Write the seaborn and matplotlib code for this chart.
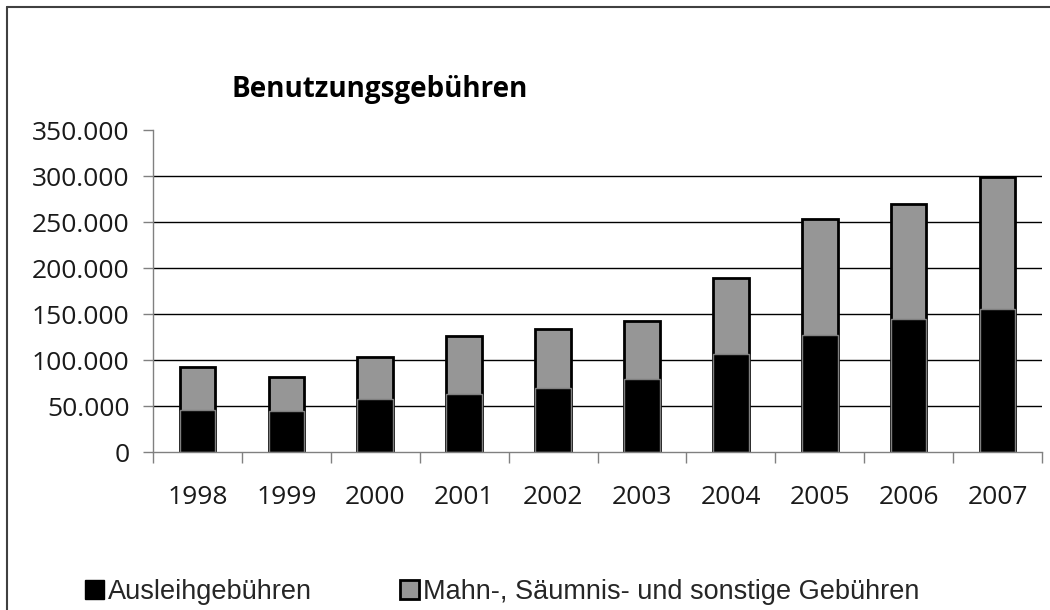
import pandas as pd
import matplotlib
matplotlib.use("Agg")
import matplotlib.pyplot as plt
import seaborn as sns
from matplotlib.patches import Patch
from matplotlib.lines import Line2D
from matplotlib.ticker import FuncFormatter, FixedLocator

# Data
years = ["1998", "1999", "2000", "2001", "2002", "2003", "2004", "2005", "2006", "2007"]
ausleih = [46000, 45000, 58000, 63000, 70000, 79000, 106000, 127000, 145000, 155000]
mahn = [46000, 36500, 45000, 63000, 64000, 63000, 83500, 126000, 125000, 144000]
yticks = [0, 50000, 100000, 150000, 200000, 250000, 300000, 350000]

df = pd.DataFrame({"jahr": years, "ausleih": ausleih, "mahn": mahn})
df["gesamt"] = df["ausleih"] + df["mahn"]

sns.set_style("white")
plt.rcParams["font.family"] = ["Open Sans", "DejaVu Sans"]

fig = plt.figure(figsize=(10.5, 6.1), dpi=100)
ax = fig.add_axes([153 / 1050, 1 - 452 / 610, (1042 - 153) / 1050, (452 - 130) / 610])

# stacked bars: total in grey, Ausleihgebühren in black on top
sns.barplot(data=df, x="jahr", y="gesamt", color="#969696", edgecolor="black",
            linewidth=2, width=0.4, saturation=1, ax=ax, zorder=3)
sns.barplot(data=df, x="jahr", y="ausleih", color="black", edgecolor="#808080",
            linewidth=1, width=0.4, saturation=1, ax=ax, zorder=4)

ax.set_ylim(0, 350000)
ax.set_xlim(-0.5, len(years) - 0.5)
ax.set_xlabel("")
ax.set_ylabel("")

# gridlines (none at top)
for v in yticks[1:-1]:
    ax.axhline(v, color="black", lw=1, zorder=1)

ax.yaxis.set_major_locator(FixedLocator(yticks))
ax.yaxis.set_major_formatter(FuncFormatter(lambda v, p: f"{int(v):,}".replace(",", ".")))
ax.tick_params(axis="y", length=7, width=1, color="#808080", pad=10, labelsize=19,
               left=True, labelcolor="#1a1a1a")

# x: labels at centres, tick marks at category boundaries
ax.set_xticks(range(len(years)))
ax.set_xticks([i - 0.5 for i in range(len(years) + 1)], minor=True)
ax.tick_params(axis="x", which="major", length=0, pad=24, labelsize=19, labelcolor="#1a1a1a")
ax.tick_params(axis="x", which="minor", length=8, width=1, color="#808080", bottom=True)

for s in ["top", "right"]:
    ax.spines[s].set_visible(False)
for s in ["left", "bottom"]:
    ax.spines[s].set_color("#808080")
    ax.spines[s].set_linewidth(1)
    ax.spines[s].set_zorder(5)

fig.text(232 / 1050, 1 - 90 / 610, "Benutzungsgebühren", fontsize=20, fontweight="bold",
         va="center", ha="left", color="black")

handles = [Patch(facecolor="black", edgecolor="black", lw=1),
           Patch(facecolor="#969696", edgecolor="black", lw=2)]
fig.legend(handles, ["Ausleihgebühren", "Mahn-, Säumnis- und sonstige Gebühren"],
           loc="center left", bbox_to_anchor=(85 / 1050, 1 - 592 / 610), ncol=2,
           frameon=False, handlelength=0.7, handleheight=0.7, handletextpad=0.15,
           columnspacing=3.25, borderaxespad=0, borderpad=0,
           prop={"family": "Liberation Sans", "size": 19.5})

# outer chart frame
fig.add_artist(Line2D([7 / 1050, 7 / 1050], [0, 1 - 7 / 610], color="#404040", lw=1.5,
                      transform=fig.transFigure))
fig.add_artist(Line2D([7 / 1050, 1], [1 - 7 / 610, 1 - 7 / 610], color="#404040", lw=1.5,
                      transform=fig.transFigure))

fig.savefig("out.png", dpi=100)
